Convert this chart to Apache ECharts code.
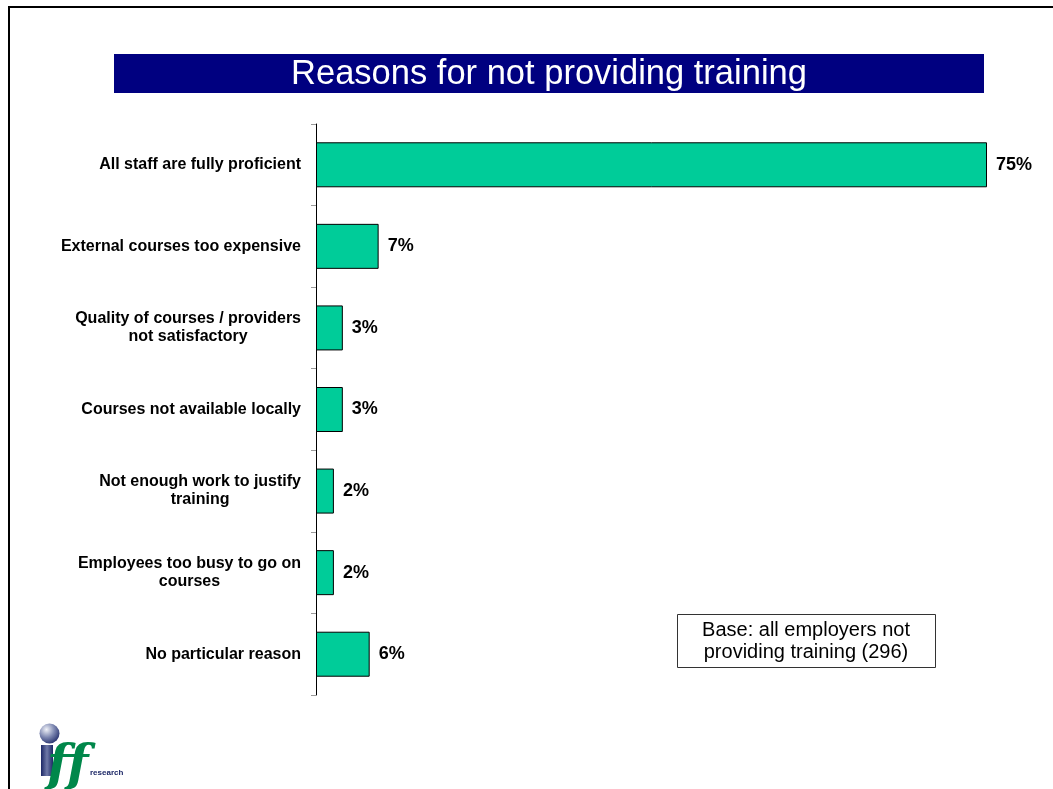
<!DOCTYPE html>
<html>
<head>
<meta charset="utf-8">
<script src="https://cdn.jsdelivr.net/npm/echarts@6/dist/echarts.min.js"></script>
<style>html,body{margin:0;padding:0;background:#fff;}#c{width:1053px;height:789px;}</style>
</head>
<body>
<div id="c"></div>
<script>
var categories = [
  "All staff are fully proficient",
  "External courses too expensive",
  "Quality of courses / providers\nnot satisfactory",
  "Courses not available locally",
  "Not enough work to justify\ntraining",
  "Employees too busy to go on\ncourses",
  "No particular reason"
];
var values = [75, 7, 3, 3, 2, 2, 6];
var titleText = "Reasons for not providing training";
var noteText = "Base: all employers not\nproviding training (296)";

var FONT = "'Liberation Sans', Arial, sans-serif";
var chart = echarts.init(document.getElementById('c'), null, {renderer: 'canvas'});
chart.setOption({
  backgroundColor: '#fff',
  animation: false,
  grid: {left: 316, right: 66, top: 124, bottom: 94, containLabel: false},
  xAxis: {
    type: 'value', min: 0, max: 75, show: false
  },
  yAxis: {
    type: 'category', data: categories, inverse: true,
    axisLine: {show: true, lineStyle: {color: '#000', width: 1}},
    axisTick: {show: true, length: 5, lineStyle: {color: '#999'}},
    axisLabel: {
      margin: 15, align: 'right',
      formatter: function (v) {
        return v.split('\n').map(function (l) { return '{c|' + l + '}'; }).join('\n');
      },
      rich: {c: {align: 'center', fontSize: 16, fontWeight: 'bold', fontFamily: FONT, color: '#000', lineHeight: 18}}
    },
    splitLine: {show: false}
  },
  series: [{
    type: 'bar', data: values, barWidth: 45,
    itemStyle: {color: '#00CC99', borderColor: '#000', borderWidth: 1},
    label: {
      show: true, position: 'right', distance: 9,
      formatter: '{c}%', fontSize: 18, fontWeight: 'bold', fontFamily: FONT, color: '#000'
    }
  }],
  graphic: [
    {type: 'line', shape: {x1: 8, y1: 7, x2: 1053, y2: 7}, style: {stroke: '#000', lineWidth: 2}},
    {type: 'line', shape: {x1: 9, y1: 6, x2: 9, y2: 789}, style: {stroke: '#000', lineWidth: 2}},
    {type: 'rect', shape: {x: 114, y: 54, width: 870, height: 39}, style: {fill: '#000080'}},
    {type: 'text', x: 549, y: 74, style: {text: titleText, fill: '#fff', font: '34.5px ' + FONT, textAlign: 'center', textVerticalAlign: 'middle'}},
    {type: 'rect', shape: {x: 677.5, y: 614.5, width: 258, height: 53}, style: {fill: '#fff', stroke: '#333', lineWidth: 1}},
    {type: 'text', x: 806, y: 641, style: {text: noteText, fill: '#000', font: '20px ' + FONT, textAlign: 'center', textVerticalAlign: 'middle', lineHeight: 22}},
    {type: 'circle', shape: {cx: 49.5, cy: 733.5, r: 10}, style: {fill: {type: 'radial', x: 0.35, y: 0.3, r: 0.8, colorStops: [{offset: 0, color: '#f0f2f8'}, {offset: 0.5, color: '#7c86b0'}, {offset: 1, color: '#1c2766'}]}}},
    {type: 'rect', shape: {x: 41, y: 745, width: 12, height: 31}, style: {fill: {type: 'linear', x: 0, y: 0, x2: 1, y2: 0, colorStops: [{offset: 0, color: '#1c2766'}, {offset: 0.5, color: '#6f79a8'}, {offset: 1, color: '#1c2766'}]}}},
    {type: 'text', x: 47, y: 742, style: {text: 'ff', fill: '#00874a', font: 'italic bold 50px "DejaVu Serif", serif', textAlign: 'left', textVerticalAlign: 'top'}},
    {type: 'text', x: 90, y: 773, style: {text: 'research', fill: '#1c2766', font: 'bold 8px ' + FONT, textAlign: 'left', textVerticalAlign: 'middle'}}
  ]
});
</script>
</body>
</html>
